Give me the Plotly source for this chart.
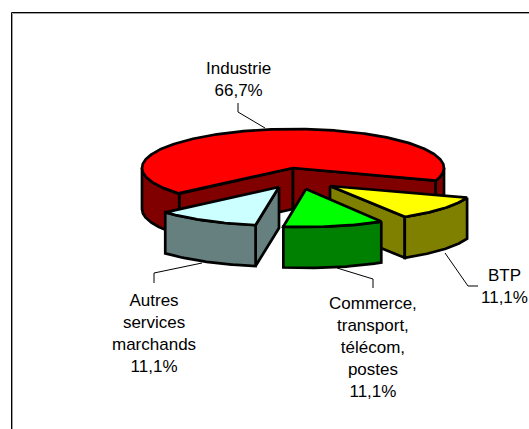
import numpy as np
import plotly.graph_objects as go

categories = ["BTP", "Commerce, transport, télécom, postes", "Autres services marchands", "Industrie"]
shares = [11.1, 11.1, 11.1, 66.7]
top_colors = ["#FFFF00", "#00FF00", "#CCFFFF", "#FF0000"]
side_colors = ["#808000", "#008000", "#668080", "#800000"]
label_lines = [["BTP", "11,1%"], ["Commerce,", "transport,", "télécom,", "postes", "11,1%"],
               ["Autres", "services", "marchands", "11,1%"], ["Industrie", "66,7%"]]

# projection of the tilted pie, in pixels
CX, CY, DEPTH = 293, 168, 41
START_ANGLE = 19  # degrees, clockwise from east
radii = [(145, 36), (146, 38), (151, 38.5), (151, 39)]
explode = [(37, 18), (13, 21), (-14, 19), (0, 0)]
label_pos = [(504.5, 264), (373, 292), (154, 288.5), (238, 57)]
leaders = [[(478, 286), (468, 286), (445, 253)],
           [(373, 288), (373, 279), (337, 268)],
           [(154, 283), (154, 273), (202, 263)],
           [(238, 103), (238, 112), (265, 128)]]

fig = go.Figure()


def poly(xs, ys, color):
    fig.add_trace(go.Scatter(x=list(xs) + [xs[0]], y=list(ys) + [ys[0]], mode="lines", fill="toself",
                             fillcolor=color, line=dict(color="black", width=2.7, shape="linear"),
                             hoverinfo="skip", showlegend=False))


def arc(a0, a1, ox, oy, rx, ry):
    t = np.radians(np.linspace(a0, a1, max(int(abs(a1 - a0)) * 2, 2)))
    return CX + ox + rx * np.cos(t), CY + oy + ry * np.sin(t)


def slice_parts(a0, a1, ox, oy, rx, ry, side, top):
    ax, ay = CX + ox, CY + oy
    # cut walls, only those that face the viewer
    for a, normal in ((a0, a0 - 90), (a1, a1 + 90)):
        if np.sin(np.radians(normal)) > 0:
            x, y = arc(a, a, ox, oy, rx, ry)
            poly([ax, x[0], x[0], ax], [ay, y[0], y[0] + DEPTH, ay + DEPTH], side)
    # visible outer wall (front half of the rim)
    for shift in (0, 360):
        lo, hi = max(a0, 0 + shift), min(a1, 180 + shift)
        if hi > lo:
            x, y = arc(lo, hi, ox, oy, rx, ry)
            poly(np.r_[x, x[::-1]], np.r_[y, y[::-1] + DEPTH], side)
    x, y = arc(a0, a1, ox, oy, rx, ry)
    poly(np.r_[ax, x], np.r_[ay, y], top)


# cumulative angles come from the shares
total = sum(shares)
edges = START_ANGLE + np.r_[0, np.cumsum(shares)] / total * 360
order = [3, 0, 2, 1]
for i in order:
    slice_parts(edges[i], edges[i + 1], *explode[i], *radii[i], side_colors[i], top_colors[i])

for pts in leaders:
    fig.add_shape(type="path", path="M" + " L".join(f"{x},{y}" for x, y in pts),
                  line=dict(color="black", width=1))

for lines, (x, y) in zip(label_lines, label_pos):
    fig.add_annotation(x=x, y=y, text="<br>".join(lines), showarrow=False, yanchor="top", xanchor="center",
                       align="center", font=dict(family="Liberation Sans", size=17, color="black"))

# chart frame with its soft grey edge
fig.add_shape(type="path", path="M12.5,440 L12.5,13.5 L540,13.5", line=dict(color="#A0A0A0", width=1))
fig.add_shape(type="path", path="M11.5,440 L11.5,12.5 L540,12.5", line=dict(color="black", width=1))

fig.update_layout(width=529, height=429, margin=dict(l=0, r=0, t=0, b=0), paper_bgcolor="white",
                  plot_bgcolor="white", autosize=False)
fig.update_xaxes(range=[0, 529], visible=False, fixedrange=True)
fig.update_yaxes(range=[429, 0], visible=False, fixedrange=True)
fig.write_html("out.html", config={"displayModeBar": False},
               post_script="document.body.style.margin='0';document.documentElement.style.overflow='hidden';")
